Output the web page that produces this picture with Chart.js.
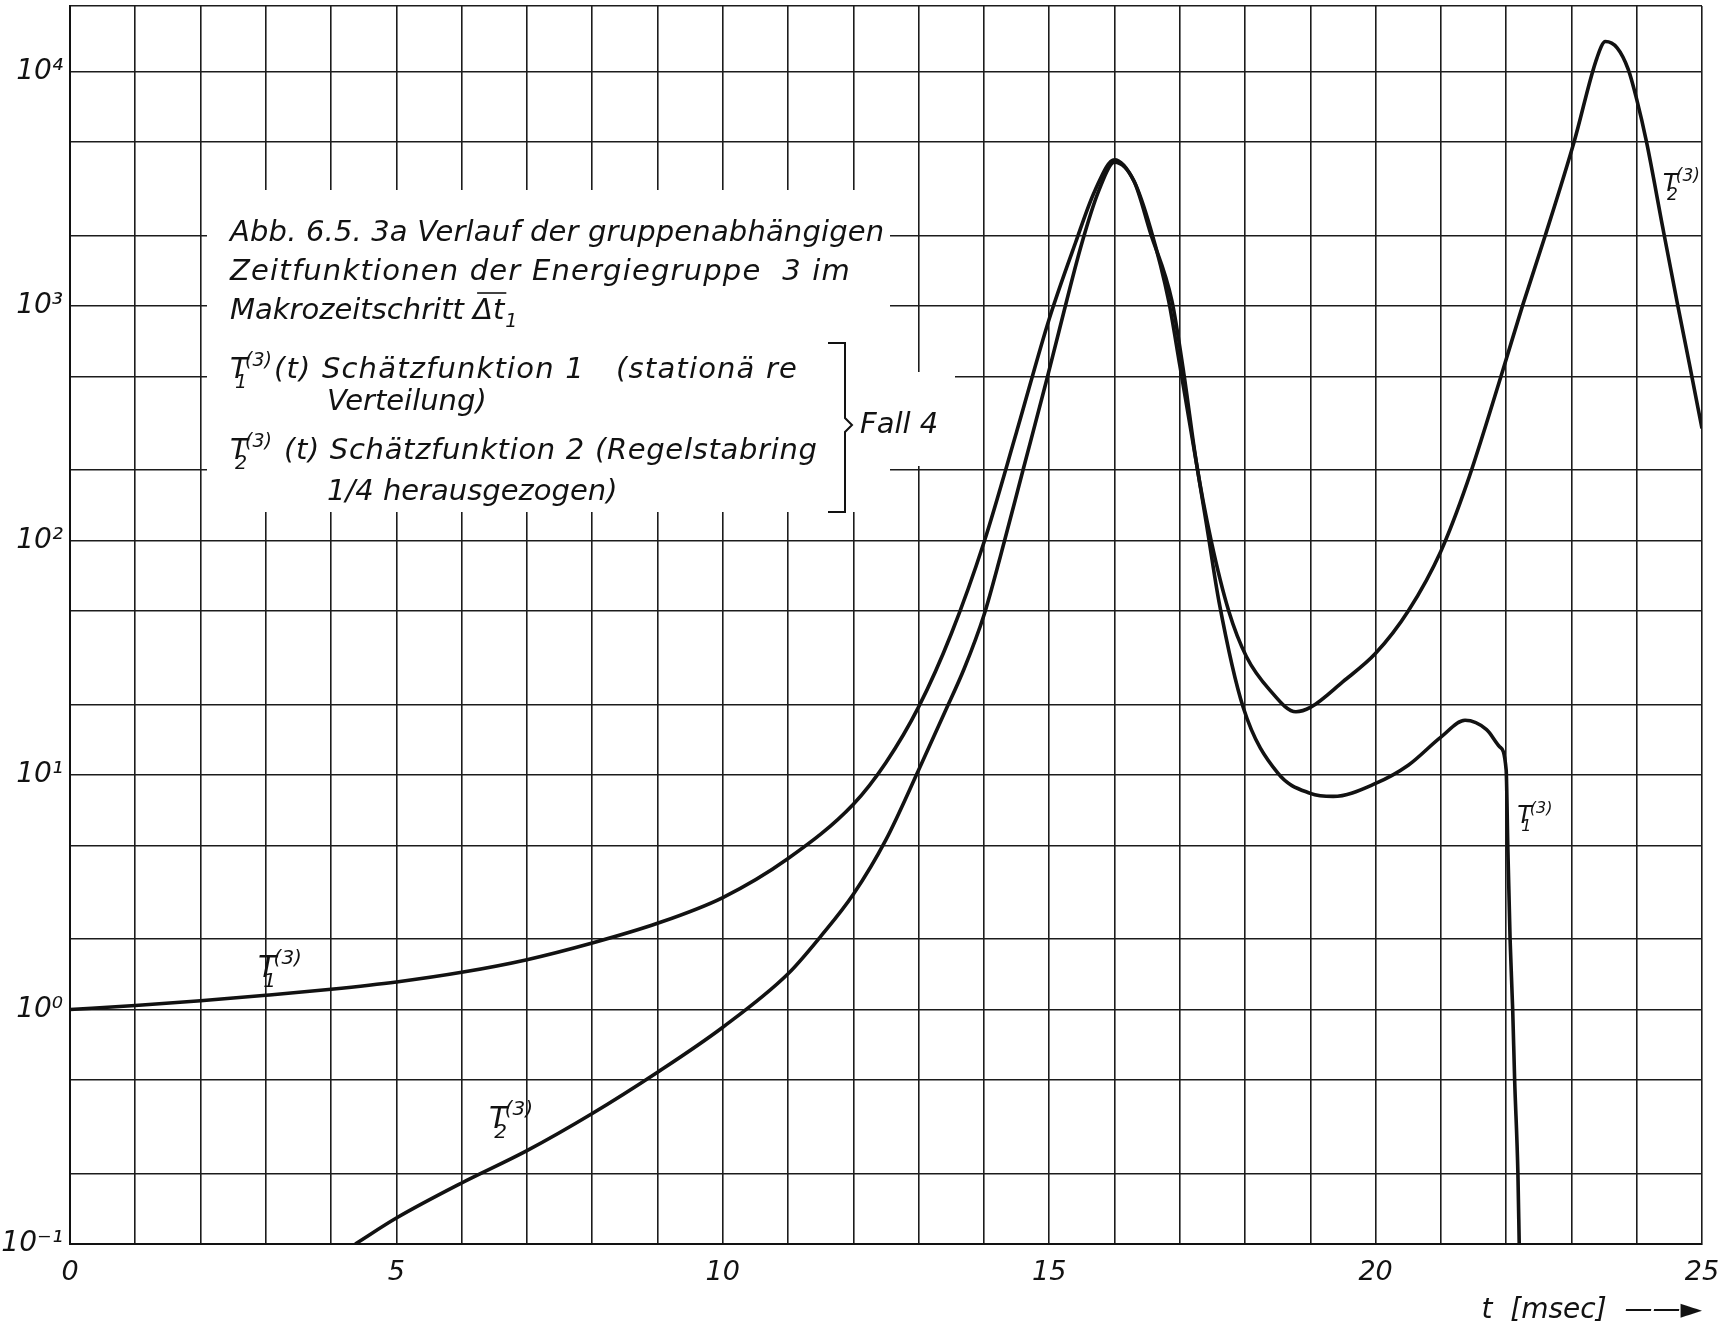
<!DOCTYPE html>
<html>
<head>
<meta charset="utf-8">
<script src="https://cdn.jsdelivr.net/npm/chart.js@4.4.1/dist/chart.umd.min.js"></script>
<style>
  html, body { margin: 0; padding: 0; background: #fff; }
  #wrap { width: 1720px; height: 1344px; position: relative; }
</style>
</head>
<body>
<div id="wrap"><canvas id="c"></canvas></div>
<script>
// T1(3): Schätzfunktion 1 (stationäre Verteilung)
const t1Time  = [0, 1, 2, 3, 4, 5, 6, 7, 8, 9, 10, 11, 12, 12.5, 13, 13.5, 14, 14.5, 15, 15.4, 15.7, 16.0,
                 16.3, 16.55, 16.83, 17.0, 17.26, 17.43, 17.6, 17.97, 18.5, 19.0, 19.35, 20, 20.5, 21, 21.37,
                 21.7, 21.9, 22.0, 22.025, 22.06, 22.1, 22.13, 22.18, 22.2];
const t1Value = [1.0, 1.04, 1.09, 1.15, 1.22, 1.31, 1.44, 1.63, 1.92, 2.33, 3.0, 4.4, 7.5, 11.3, 19.5, 40, 98, 290, 880, 1850, 3100, 4200,
                 3400, 2150, 1050, 560, 210, 108, 55, 19.5, 10.2, 8.35, 8.1, 9.2, 11, 14.5, 17.1,
                 15.6, 13.2, 10.5, 5, 2, 1, 0.5, 0.2, 0.1];

// T2(3): Schätzfunktion 2 (Regelstabring 1/4 herausgezogen)
const t2Time  = [4.37, 5, 6, 7, 8, 9, 10, 11, 11.5, 12, 12.5, 13, 13.4, 13.7, 14, 14.25, 14.6, 14.95, 15.15, 15.5, 15.76, 16.0,
                 16.3, 16.55, 16.88, 17.06, 17.26, 17.48, 17.75, 18.02, 18.38, 18.78, 19.0, 19.5, 20, 20.5, 21, 21.4,
                 21.92, 22.25, 22.6, 23.04, 23.39, 23.52, 23.7, 23.87, 24.0, 24.15, 24.4, 24.63, 24.81, 25.0];
const t2Value = [0.1, 0.129, 0.182, 0.25, 0.36, 0.54, 0.84, 1.42, 2.05, 3.1, 5.3, 10.5, 18.5, 28.5, 48, 85, 200, 470, 780, 1850, 3100, 4100,
                 3400, 2050, 1050, 520, 210, 100, 50, 32, 23, 18.6, 19.4, 25, 33, 50, 90, 175,
                 500, 1000, 2000, 5000, 11400, 13400, 12600, 10200, 7600, 5000, 2150, 1000, 560, 300];

const xLabelled    = [0, 5, 10, 15, 20, 25];
const yGridValues  = [0.1, 0.2, 0.5, 1, 2, 5, 10, 20, 50, 100, 200, 500, 1000, 2000, 5000, 10000];
const yLabelValues = [0.1, 1, 10, 100, 1000, 10000];
const yLabelTexts  = ['10⁻¹', '10⁰', '10¹', '10²', '10³', '10⁴'];

const Y_MAX = 19000;
const INK = '#121212';
const FAMILY = '"DejaVu Sans", sans-serif';
const f = (size) => `italic ${size}px ${FAMILY}`;

// T with subscript index and superscript (3)
function drawT(ctx, x, y, size, sub, sup) {
  ctx.font = f(size);
  ctx.fillText('T', x, y);
  const w = ctx.measureText('T').width;
  const s = Math.round(size * 0.66);
  ctx.font = f(s);
  const xs = x + w * 0.85, xb = x + w * 0.28;
  ctx.fillText(sup, xs, y - size * 0.42);
  ctx.fillText(sub, xb, y + size * 0.34);
  const end = Math.max(xs + ctx.measureText(sup).width, xb + ctx.measureText(sub).width);
  ctx.font = f(size);
  return end;
}

// stretch a line of lettering to end at "right" (the stencil letters are widely spaced)
function spaced(ctx, text, x, y, right) {
  ctx.letterSpacing = '0px';
  const w = ctx.measureText(text).width;
  const ls = right ? Math.max(0, (right - x - w) / (text.length - 1)) : 0;
  ctx.letterSpacing = ls.toFixed(2) + 'px';
  ctx.fillText(text, x, y);
  ctx.letterSpacing = '0px';
}

const curveLabels = [
  { sub: '1', t: 2.88,  v: 1.38,  size: 30 },
  { sub: '2', t: 6.42,  v: 0.313, size: 30 },
  { sub: '1', t: 22.17, v: 6.25,  size: 24 },
  { sub: '2', t: 24.4,  v: 3080,  size: 25 }
];

const notes = {
  id: 'notes',
  beforeDatasetsDraw(chart) {
    const { ctx } = chart;
    ctx.save();
    ctx.fillStyle = '#fff';
    ctx.fillRect(207, 190, 683, 322);   // text panel
    ctx.fillRect(890, 372, 65, 94);     // "Fall 4"
    ctx.restore();
  },
  afterDatasetsDraw(chart) {
    const { ctx, scales: { x, y } } = chart;
    ctx.save();
    ctx.fillStyle = INK;
    ctx.strokeStyle = INK;
    ctx.textBaseline = 'alphabetic';
    ctx.textAlign = 'left';
    const S = 29;
    ctx.font = f(S);
    spaced(ctx, 'Abb. 6.5. 3a Verlauf der gruppenabhängigen', 230, 241, 884);
    spaced(ctx, 'Zeitfunktionen der Energiegruppe  3 im', 230, 280, 850);
    // Makrozeitschritt Δt1 (overlined)
    const pre = 'Makrozeitschritt ';
    ctx.fillText(pre, 230, 319);
    const xx = 230 + ctx.measureText(pre).width;
    ctx.fillText('Δt', xx, 319);
    const wd = ctx.measureText('Δt').width;
    ctx.lineWidth = 1.6;
    ctx.beginPath();
    ctx.moveTo(xx + 4, 293); ctx.lineTo(xx + wd + 2, 293);
    ctx.stroke();
    ctx.font = f(19);
    ctx.fillText('1', xx + wd + 1, 327);
    ctx.font = f(S);

    let e = drawT(ctx, 230, 378, S, '1', '(3)');
    spaced(ctx, '(t) Schätzfunktion 1   (stationä re', e + 2, 378, 797);
    ctx.fillText('Verteilung)', 327, 410);
    e = drawT(ctx, 230, 459, S, '2', '(3)');
    spaced(ctx, ' (t) Schätzfunktion 2 (Regelstabring', e + 2, 459, 817);
    ctx.fillText('1/4 herausgezogen)', 327, 500);

    // bracket + Fall 4
    ctx.lineWidth = 2;
    ctx.beginPath();
    ctx.moveTo(828, 343); ctx.lineTo(845, 343); ctx.lineTo(845, 418);
    ctx.lineTo(852, 425); ctx.lineTo(845, 432); ctx.lineTo(845, 512); ctx.lineTo(828, 512);
    ctx.stroke();
    ctx.fillText('Fall 4', 860, 433);

    // curve labels
    for (const l of curveLabels) {
      drawT(ctx, x.getPixelForValue(l.t), y.getPixelForValue(l.v), l.size, l.sub, '(3)');
    }
    ctx.restore();
  }
};

const line = (times, values) => ({
  data: times.map((t, i) => ({ x: t, y: values[i] })),
  borderColor: INK,
  borderWidth: 3.6,
  pointRadius: 0,
  fill: false,
  cubicInterpolationMode: 'monotone'
});

const gridStyle = { color: '#1c1c1c', lineWidth: 1.6, drawTicks: false };

new Chart(document.getElementById('c'), {
  type: 'line',
  data: { datasets: [line(t1Time, t1Value), line(t2Time, t2Value)] },
  plugins: [notes],
  options: {
    responsive: true, maintainAspectRatio: false, animation: false, devicePixelRatio: 1,
    layout: { padding: { top: 6, right: 18, bottom: 0, left: 0 } },
    plugins: { legend: { display: false }, tooltip: { enabled: false } },
    scales: {
      x: {
        type: 'linear', min: 0, max: 25,
        grid: gridStyle,
        border: { display: true, color: INK, width: 2 },
        ticks: {
          stepSize: 1, autoSkip: false, maxRotation: 0, padding: 13, color: INK,
          font: { family: FAMILY, size: 27, style: 'italic' },
          callback: (v) => xLabelled.includes(v) ? String(v) : ''
        },
        title: {
          display: true, text: 't  [msec]  ——►', align: 'end', color: INK,
          font: { family: FAMILY, size: 28, style: 'italic' },
          padding: { top: 0, bottom: 16 }
        },
        afterFit: (s) => { s.height = 100; s.paddingLeft = 0; s.paddingRight = 0; }
      },
      y: {
        type: 'logarithmic', min: 0.1, max: Y_MAX,
        grid: gridStyle,
        border: { display: true, color: INK, width: 2 },
        afterBuildTicks: (s) => { s.ticks = yGridValues.concat([Y_MAX]).map(v => ({ value: v })); },
        ticks: {
          autoSkip: false, padding: 7, color: INK,
          font: { family: FAMILY, size: 28, style: 'italic' },
          callback: (v) => {
            const i = yLabelValues.indexOf(v);
            return i >= 0 ? yLabelTexts[i] : '';
          }
        },
        afterFit: (s) => { s.width = 70; s.paddingTop = 0; s.paddingBottom = 0; }
      }
    }
  }
});
</script>
</body>
</html>
